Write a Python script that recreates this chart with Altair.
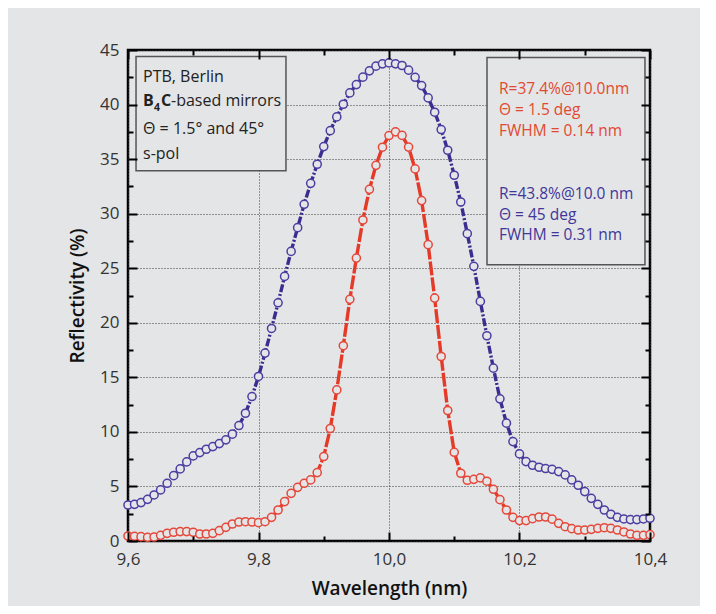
import altair as alt
import pandas as pd

# ---------------- data ----------------
wavelength = [9.60, 9.61, 9.62, 9.63, 9.64, 9.65, 9.66, 9.67, 9.68, 9.69,
              9.70, 9.71, 9.72, 9.73, 9.74, 9.75, 9.76, 9.77, 9.78, 9.79,
              9.80, 9.81, 9.82, 9.83, 9.84, 9.85, 9.86, 9.87, 9.88, 9.89,
              9.90, 9.91, 9.92, 9.93, 9.94, 9.95, 9.96, 9.97, 9.98, 9.99,
              10.00, 10.01, 10.02, 10.03, 10.04, 10.05, 10.06, 10.07, 10.08, 10.09,
              10.10, 10.11, 10.12, 10.13, 10.14, 10.15, 10.16, 10.17, 10.18, 10.19,
              10.20, 10.21, 10.22, 10.23, 10.24, 10.25, 10.26, 10.27, 10.28, 10.29,
              10.30, 10.31, 10.32, 10.33, 10.34, 10.35, 10.36, 10.37, 10.38, 10.39,
              10.40]

refl_45deg = [3.30, 3.36, 3.52, 3.82, 4.22, 4.68, 5.29, 5.99, 6.61, 7.25,
              7.80, 8.10, 8.41, 8.65, 8.93, 9.27, 9.79, 10.58, 11.71, 13.24,
              15.08, 17.22, 19.48, 21.83, 24.25, 26.54, 28.72, 30.86, 32.78, 34.53,
              36.15, 37.61, 38.87, 40.03, 41.07, 41.83, 42.51, 43.09, 43.52, 43.73,
              43.82, 43.73, 43.58, 43.15, 42.50, 41.74, 40.61, 39.30, 37.71, 35.81,
              33.52, 31.07, 28.17, 25.17, 21.96, 18.81, 15.84, 13.03, 10.80, 9.11,
              7.98, 7.28, 6.94, 6.76, 6.64, 6.57, 6.36, 6.06, 5.60, 5.11,
              4.53, 3.91, 3.36, 2.84, 2.45, 2.17, 2.02, 1.96, 1.96, 2.02,
              2.08]

refl_1p5deg = [0.46, 0.43, 0.40, 0.34, 0.37, 0.52, 0.70, 0.80, 0.86, 0.86,
               0.80, 0.64, 0.64, 0.70, 0.95, 1.25, 1.56, 1.74, 1.77, 1.74,
               1.68, 1.77, 2.17, 2.84, 3.61, 4.37, 4.92, 5.29, 5.60, 6.27,
               7.74, 10.31, 13.85, 17.90, 22.15, 25.93, 29.42, 32.23, 34.43, 36.09,
               37.16, 37.50, 37.17, 36.10, 34.10, 31.20, 27.16, 22.26, 16.91, 11.96,
               8.13, 6.21, 5.57, 5.65, 5.78, 5.48, 4.74, 3.79, 2.84, 2.17,
               1.87, 1.87, 2.05, 2.20, 2.20, 2.00, 1.62, 1.31, 1.13, 1.01,
               1.01, 1.07, 1.16, 1.22, 1.16, 1.01, 0.83, 0.64, 0.52, 0.52,
               0.58]

x_major = [9.6, 9.8, 10.0, 10.2, 10.4]
x_minor = [9.7, 9.9, 10.1, 10.3]
y_major = [0, 5, 10, 15, 20, 25, 30, 35, 40, 45]
y_minor = [2.5, 7.5, 12.5, 17.5, 22.5, 27.5, 32.5, 37.5, 42.5]

info_lines = ["PTB, Berlin", "-based mirrors", "Θ = 1.5° and 45°", "s-pol"]
result_lines = ["R=37.4%@10.0nm", "Θ = 1.5 deg", "FWHM = 0.14 nm",
                "R=43.8%@10.0 nm", "Θ = 45 deg", "FWHM = 0.31 nm"]

# ---------------- styles ----------------
BG = "#e4e5e7"
BLUE = "#3b2d8f"
BLUE_M = "#4a3ea2"
RED = "#e53a28"
RED_M = "#e5483a"
FONT = "Open Sans"
W, H = 522, 491

blue_df = pd.DataFrame({"wl": wavelength, "R": refl_45deg})
red_df = pd.DataFrame({"wl": wavelength, "R": refl_1p5deg})

xs = alt.Scale(domain=[9.6, 10.4], nice=False, zero=False)
ys = alt.Scale(domain=[0, 45], nice=False, zero=False)


def tick_axis(orient, values, size, offset):
    return alt.Axis(orient=orient, values=values, tickSize=size, offset=offset,
                    labels=False, domain=False, grid=False, title="",
                    ticks=True, tickColor="black", tickWidth=2, zindex=1)


main_x = alt.Axis(orient="bottom", values=x_major,
                  labelExpr="replace(format(datum.value, '.1f'), '.', ',')",
                  title="Wavelength (nm)", ticks=False, domain=False,
                  grid=True, gridColor="#3a3a3a", gridDash=[1, 2], gridWidth=1,
                  labelFontSize=17, labelColor="#333", labelPadding=10,
                  labelFlush=False, labelOverlap=False,
                  labelFont=FONT, titleFont=FONT, titleFontSize=19,
                  titleFontWeight=600, titleColor="#111", titlePadding=12)
main_y = alt.Axis(orient="left", values=y_major,
                  title="Reflectivity (%)", ticks=False, domain=False,
                  grid=True, gridColor="#3a3a3a", gridDash=[1, 2], gridWidth=1,
                  labelFontSize=17, labelColor="#333", labelPadding=9,
                  labelFlush=False, labelOverlap=False,
                  labelFont=FONT, titleFont=FONT, titleFontSize=19,
                  titleFontWeight=600, titleColor="#111", titlePadding=12)

blue_line = alt.Chart(blue_df).mark_line(color=BLUE, strokeWidth=3.4,
                                         strokeDash=[8, 2, 2, 2]).encode(
    x=alt.X("wl:Q", scale=xs, axis=main_x),
    y=alt.Y("R:Q", scale=ys, axis=main_y))

red_line = alt.Chart(red_df).mark_line(color=RED, strokeWidth=3.4,
                                       strokeDash=[14, 2]).encode(
    x=alt.X("wl:Q", scale=xs, axis=None),
    y=alt.Y("R:Q", scale=ys, axis=None))

blue_pts = alt.Chart(blue_df).mark_point(shape="circle", filled=False, fill=BG,
                                         fillOpacity=1, stroke=BLUE_M,
                                         strokeWidth=1.5, size=66, opacity=1).encode(
    x=alt.X("wl:Q", scale=xs, axis=tick_axis("top", x_major, 9, -H)),
    y=alt.Y("R:Q", scale=ys, axis=tick_axis("right", y_major, 9, -W)))

red_pts = alt.Chart(red_df).mark_point(shape="circle", filled=False, fill=BG,
                                       fillOpacity=1, stroke=RED_M,
                                       strokeWidth=1.5, size=66, opacity=1).encode(
    x=alt.X("wl:Q", scale=xs, axis=tick_axis("top", x_minor, 5, -H)),
    y=alt.Y("R:Q", scale=ys, axis=tick_axis("right", y_minor, 5, -W)))

# annotation boxes (data coordinates)
box_df = pd.DataFrame({"wl": [9.6123, 10.1502], "wl2": [9.8421, 10.3923],
                       "R": [33.94, 25.32], "R2": [44.40, 44.31]})
boxes = alt.Chart(box_df).mark_rect(fill=BG, stroke="#555", strokeWidth=1.5).encode(
    x=alt.X("wl:Q", scale=xs, axis=tick_axis("bottom", x_major, 9, -H)),
    x2="wl2:Q",
    y=alt.Y("R:Q", scale=ys, axis=tick_axis("left", y_major, 9, -W)),
    y2="R2:Q")

info_df = pd.DataFrame({"wl": [9.623, 9.6659, 9.623, 9.623],
                        "R": [42.05, 39.84, 37.34, 35.05],
                        "t": info_lines})
info_txt = alt.Chart(info_df).mark_text(align="left", baseline="alphabetic",
                                        font=FONT, fontSize=16, color="#222").encode(
    x=alt.X("wl:Q", scale=xs, axis=tick_axis("bottom", x_minor, 5, -H)),
    y=alt.Y("R:Q", scale=ys, axis=tick_axis("left", y_minor, 5, -W)),
    text="t:N")

bold_df = pd.DataFrame({"wl": [9.623, 9.6506], "R": [39.84, 39.84], "t": ["B", "C"]})
bold_txt = alt.Chart(bold_df).mark_text(align="left", baseline="alphabetic",
                                        font=FONT, fontSize=16, fontWeight="bold",
                                        color="#222").encode(
    x=alt.X("wl:Q", scale=xs, axis=None),
    y=alt.Y("R:Q", scale=ys, axis=None),
    text="t:N")

sub_df = pd.DataFrame({"wl": [9.6398], "R": [39.45], "t": ["4"]})
sub_txt = alt.Chart(sub_df).mark_text(align="left", baseline="alphabetic",
                                      font=FONT, fontSize=10.5, fontWeight="bold",
                                      color="#222").encode(
    x=alt.X("wl:Q", scale=xs, axis=None),
    y=alt.Y("R:Q", scale=ys, axis=None),
    text="t:N")

res_df = pd.DataFrame({"wl": [10.1686] * 6,
                       "R": [41.01, 39.06, 37.16, 31.35, 29.39, 27.55],
                       "t": result_lines,
                       "c": ["#e2492f"] * 3 + ["#40379a"] * 3})
res_txt = alt.Chart(res_df).mark_text(align="left", baseline="alphabetic",
                                      font=FONT, fontSize=15.5).encode(
    x=alt.X("wl:Q", scale=xs, axis=None),
    y=alt.Y("R:Q", scale=ys, axis=None),
    text="t:N",
    color=alt.Color("c:N", scale=None))

chart = alt.layer(
    blue_line, red_line, blue_pts, red_pts, boxes, info_txt, bold_txt, sub_txt, res_txt
).resolve_axis(x="independent", y="independent").properties(
    width=W, height=H,
    padding={"left": 120, "top": 42, "right": 50, "bottom": 65},
    autosize=alt.AutoSizeParams(type="none"),
    background=BG,
).configure_view(stroke="black", strokeWidth=2.5)

chart.save("out.html", embed_options={"renderer": "svg", "actions": False})
